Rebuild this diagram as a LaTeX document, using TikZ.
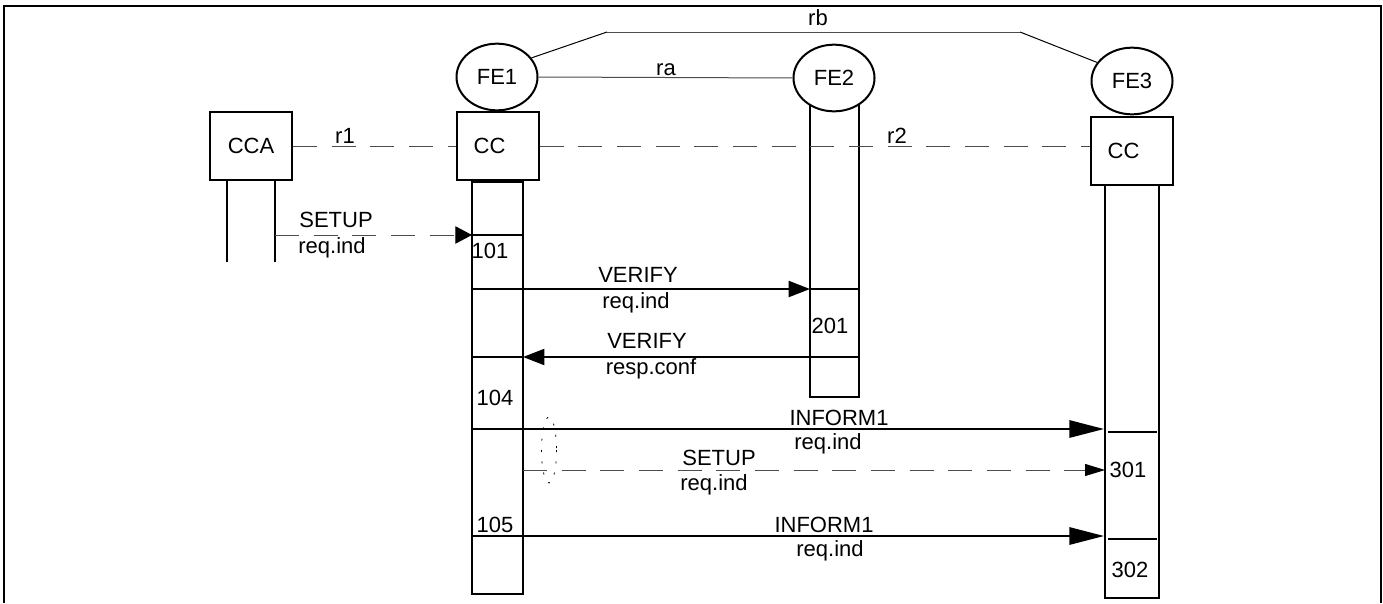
\documentclass[tikz,border=0pt]{standalone}
\usepackage{fontspec}
\setmainfont{Liberation Sans}
\usetikzlibrary{arrows.meta,shapes.geometric}

\tikzset{
  fbox/.style={draw, line width=1.5pt, minimum width=61.5pt, minimum height=51pt, inner sep=0pt, font=\fontsize{16.5}{19}\selectfont},
  fe/.style={draw, ellipse, line width=1.5pt, minimum width=60.75pt, minimum height=50pt, inner sep=0pt, font=\fontsize{16.5}{19}\selectfont},
  lbl/.style={anchor=base, inner sep=0pt, font=\fontsize{16.5}{19}\selectfont},
  thick line/.style={line width=1.5pt},
  thin line/.style={line width=0.75pt, black!70},
  dash line/.style={line width=0.75pt, black!70, dash pattern={on 18pt off 11pt}},
  big tip/.style={-{Triangle[length=26pt,width=13pt]}},
  mid tip/.style={-{Triangle[length=16pt,width=12pt]}},
}

\begin{document}
\begin{tikzpicture}[x=0.75pt,y=0.75pt,yscale=-1,xscale=1]
\useasboundingbox (0,0) rectangle (1383,603);

%Frame
\draw [line width=1.5pt] (4,603) -- (4,6) -- (1381,6) -- (1381,603);

%Entities
\node [fbox] (cca) at (251,146) {CCA};
\node [fe] (fe1) at (497,77) {FE1};
\node [fbox] (cc1) at (497.5,146) {CC\kern12pt};
\node [fe] (fe2) at (834,78) {FE2};
\node [fe] (fe3) at (1132,81) {FE3};
\node [fbox] (cc3) at (1131.5,151) {CC\kern12pt};

%Lanes
\draw [thick line] (227,180) -- (227,262);
\draw [thick line] (275,180) -- (275,262);
\draw [thick line] (472,182) rectangle (523,594);
\draw [thick line] (810,105) -- (810,397) -- (859,397) -- (859,105);
\draw [thick line] (1105,185) -- (1105,598) -- (1159,598) -- (1159,185);

%Relations
\coordinate (rbl) at (607,32);
\coordinate (rbr) at (1020,32);
\draw [thin line] (fe1.east) -- (fe2.west);
\draw [line width=0.75pt] (fe1.29) -- (rbl);
\draw [thin line] (rbl) -- (rbr);
\draw [line width=0.75pt] (rbr) -- (fe3.152);
\draw [dash line] (cca.east) -- (cc1.west);
\draw [dash line] (cc1.east) -- (cc1.east -| cc3.west);

%Message end points
\coordinate (setA) at (275,235);
\coordinate (setB) at (472,235);
\coordinate (verA) at (472,289);
\coordinate (verB) at (810,289);
\coordinate (resA) at (859,357);
\coordinate (resB) at (523,357);
\coordinate (infA) at (472,429);
\coordinate (infB) at (1104,429);
\coordinate (setC) at (523,470);
\coordinate (setD) at (1105,470);
\coordinate (infC) at (472,536);
\coordinate (infD) at (1104,536);

%Messages
\draw [dash line, -{Triangle[length=12.5pt,width=13pt,color=black]}] (setA) -- (setB);
\draw [thick line, mid tip] (verA) -- (verB);
\draw [thick line, mid tip] (resA) -- (resB);
\draw [thick line, big tip] (infA) -- (infB);
\draw [dash line, -{Triangle[length=15pt,width=9pt,color=black]}] (setC) -- (setD);
\draw [thick line, big tip] (infC) -- (infD);

%Lane dividers
\draw [thick line] (setB) -- (523,235);
\draw [thick line] (verB) -- (859,289);
\draw [thick line] (472,357) -- (resB);
\draw [thick line] (810,357) -- (resA);
\draw [thick line] (1108,432) -- (1157,432);
\draw [thick line] (1108,539) -- (1157,539);

%Dotted ellipse
\draw [line width=0.6pt, dash pattern={on 1.5pt off 7pt}] (549,450) ellipse [x radius=7.5, y radius=33];

% Text Node
\node [lbl] (r1) at (345,143) {r1};
\node [lbl] (r2) at (897,143) {r2};
\node [lbl] (ra) at (666,75) {ra};
\node [lbl] (rb) at (818,25) {rb};
\node [lbl] (t1) at (336,227) {SETUP};
\node [lbl] (t2) at (332,253) {req.ind};
\node [lbl] (n101) at (490,258) {101};
\node [lbl] (t3) at (638,282) {VERIFY};
\node [lbl] (t4) at (636,308) {req.ind};
\node [lbl] (n201) at (830,333) {201};
\node [lbl] (t5) at (647,348) {VERIFY};
\node [lbl] (t6) at (651,374) {resp.conf};
\node [lbl] (n104) at (495,405) {104};
\node [lbl] (t7) at (839,425) {INFORM1};
\node [lbl] (t8) at (828,449) {req.ind};
\node [lbl] (t9) at (719,465) {SETUP};
\node [lbl] (t10) at (714,490) {req.ind};
\node [lbl] (n105) at (495,532) {105};
\node [lbl] (t11) at (824,532) {INFORM1};
\node [lbl] (t12) at (830,556) {req.ind};
\node [lbl] (n301) at (1128,477) {301};
\node [lbl] (n302) at (1130,577) {302};

\end{tikzpicture}
\end{document}
